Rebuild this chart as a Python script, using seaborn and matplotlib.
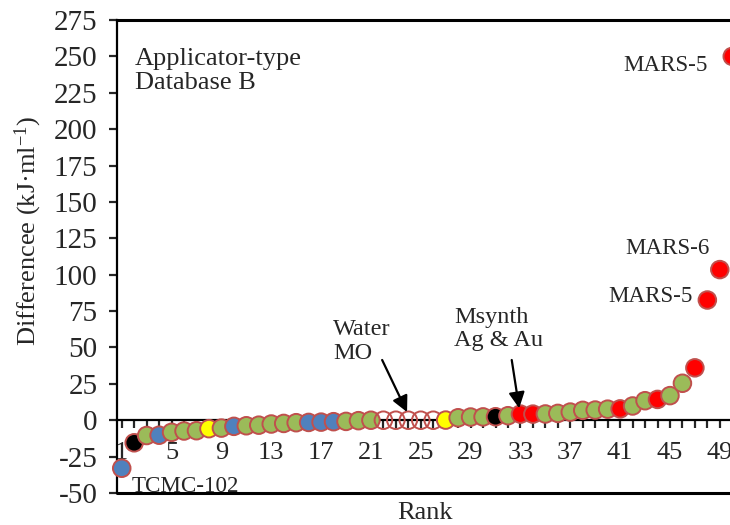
import matplotlib
matplotlib.use("Agg")
import matplotlib.pyplot as plt
import seaborn as sns
import pandas as pd

# ---- data ----
ranks = list(range(1, 51))
differences = [-33, -15.5, -10.5, -10.3, -8.3, -7.4, -7.2, -5.8, -5.4, -4.2,
               -3.8, -3.4, -2.6, -2.2, -1.7, -1.5, -1.3, -1.0, -0.8, -0.3,
               0, 0, 0, 0, 0, 0, 0.1, 1.7, 2.2, 2.3,
               2.4, 3.1, 4.2, 4.2, 4.3, 4.7, 5.6, 6.8, 7.0, 7.6,
               7.8, 9.8, 13.4, 14.3, 16.9, 25.4, 36, 82.6, 103.5, 250]
categories = ["blue", "black", "green", "blue", "green", "green", "green", "yellow", "green", "blue",
              "green", "green", "green", "green", "green", "blue", "blue", "blue", "green", "green",
              "green", "open", "open", "open", "open", "open", "yellow", "green", "green", "green",
              "black", "green", "red", "red", "green", "green", "green", "green", "green", "green",
              "red", "green", "green", "red", "green", "green", "red", "red", "red", "red"]
xtick_labels = ["1", "5", "9", "13", "17", "21", "25", "29", "33", "37", "41", "45", "49"]
yticks = [-50, -25, 0, 25, 50, 75, 100, 125, 150, 175, 200, 225, 250, 275]

palette = {"green": "#9BBB59", "blue": "#4F81BD", "black": "#000000",
           "yellow": "#FFFF00", "red": "#FF0000", "open": (1, 1, 1, 0)}

df = pd.DataFrame({"Rank": ranks, "Difference": differences, "cat": categories})

sns.set_style("white")
plt.rcParams["font.family"] = ["Liberation Serif", "DejaVu Serif"]
plt.rcParams["mathtext.fontset"] = "custom"
plt.rcParams["mathtext.rm"] = "Liberation Serif"
plt.rcParams["mathtext.it"] = "Liberation Serif:italic"
plt.rcParams["mathtext.default"] = "regular"

FS = 19
fig = plt.figure(figsize=(7.30, 5.25), dpi=100)
left_px, right_px, top_px, bot_px = 117, 738.5, 20, 493
ax = fig.add_axes([left_px / 730, 1 - bot_px / 525, (right_px - left_px) / 730, (bot_px - top_px) / 525])

sns.scatterplot(data=df, x="Rank", y="Difference", hue="cat", palette=palette,
                s=160, edgecolor="#C0504D", linewidth=1.4, legend=False,
                zorder=3, clip_on=False, ax=ax)
# make sure open markers are transparent
fcs = [palette[c] if c != "open" else (1, 1, 1, 0) for c in categories]
ax.collections[0].set_facecolors(fcs)

ax.set_xlim(0.62, 50.5)
ax.set_ylim(-50, 275)

# spines
for s in ["left", "top", "bottom", "right"]:
    ax.spines[s].set_color("black")
    ax.spines[s].set_linewidth(1.6)
ax.spines["top"].set_linewidth(2.2)
ax.spines["bottom"].set_position(("data", 0))
ax.spines["right"].set_visible(False)
ax.axhline(-50, color="black", lw=2.2, clip_on=False, zorder=2)

ax.set_xticks(ranks)
ax.set_xticklabels([str(r) if str(r) in xtick_labels else "" for r in ranks])
ax.set_yticks(yticks)
ax.set_yticklabels([str(v) for v in yticks])
ax.tick_params(axis="x", direction="out", length=6, width=1.6, pad=10, labelsize=FS, bottom=True)
ax.tick_params(axis="y", direction="out", length=6, width=1.6, pad=8, labelsize=21, left=True)

ax.set_xlabel("Rank", fontsize=FS)
ax.set_ylabel(r"Differencee (kJ·ml$^{-1}$)", fontsize=FS)
ax.xaxis.set_label_coords((425 - left_px) / (right_px - left_px), -0.019)
ax.yaxis.set_label_coords(-0.117, 0.554)

# annotations
ax.text(2.04, 240, "Applicator-type\nDatabase B", fontsize=FS, ha="left", va="center", linespacing=1.1)
ax.text(1.8, -45.2, "TCMC-102", fontsize=16.6, ha="left", va="center")
ax.text(48.05, 244, "MARS-5", fontsize=16.6, ha="right", va="center")
ax.text(48.2, 118, "MARS-6", fontsize=16.6, ha="right", va="center")
ax.text(46.85, 85, "MARS-5", fontsize=16.6, ha="right", va="center")
ax.text(17.98, 54, "Water\nMO", fontsize=17.5, ha="left", va="center", linespacing=1.15)
ax.text(27.67, 62.7, "Msynth\nAg & Au", fontsize=17.5, ha="left", va="center", linespacing=1.15)

arrow = dict(arrowstyle="-|>", lw=1.6, color="black", mutation_scale=24, shrinkA=0, shrinkB=0)
ax.annotate("", xy=(23.9, 5.6), xytext=(21.9, 41.4), arrowprops=arrow)
ax.annotate("", xy=(32.9, 8.2), xytext=(32.3, 41.4), arrowprops=arrow)

fig.savefig("out.png", dpi=100)
